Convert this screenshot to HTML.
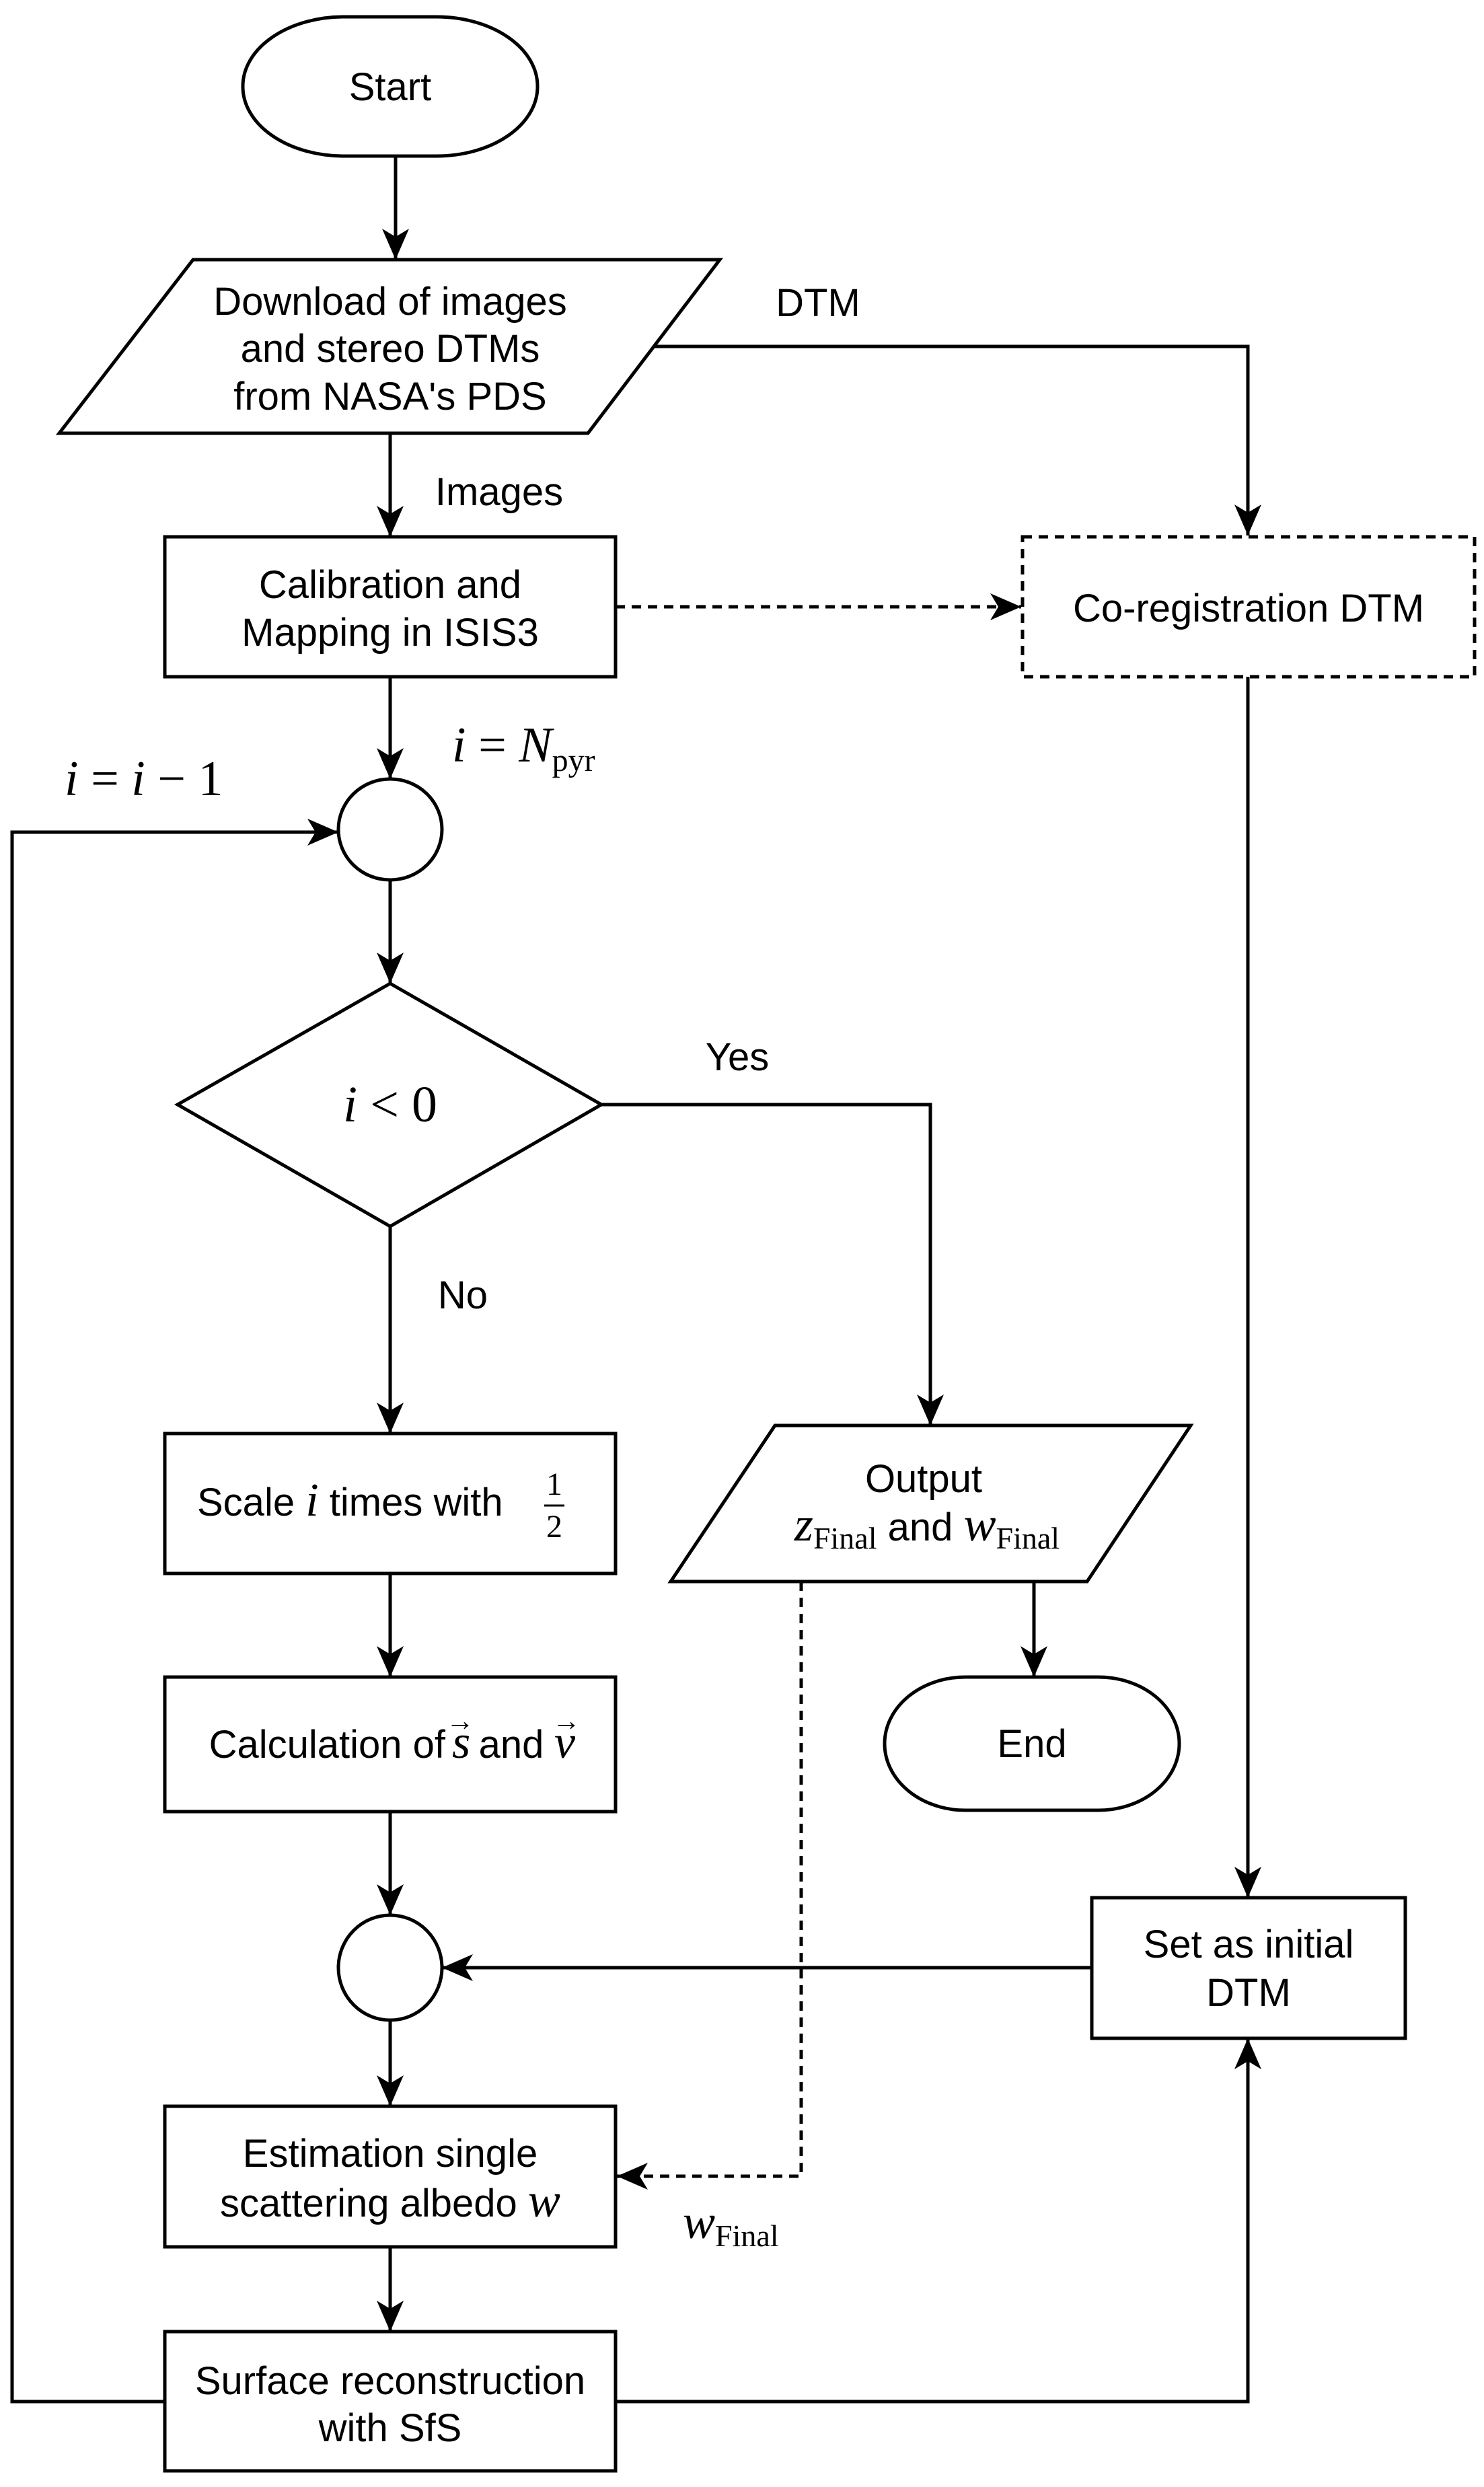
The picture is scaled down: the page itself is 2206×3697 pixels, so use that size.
<!DOCTYPE html>
<html><head><meta charset="utf-8"><style>
html,body{margin:0;padding:0;background:#fff}
svg{display:block}
.s{font-family:"Liberation Sans",Arial,sans-serif;font-size:58px;fill:#000}
.m{font-family:"Liberation Serif","Times New Roman",serif;font-style:italic;fill:#000}
.r{font-family:"Liberation Serif","Times New Roman",serif;font-style:normal;fill:#000}
</style></head><body>
<svg width="2206" height="3697" viewBox="0 0 2206 3697" xmlns="http://www.w3.org/2000/svg">
<defs>
<marker id="a" markerUnits="userSpaceOnUse" markerWidth="46" markerHeight="40" viewBox="0 0 46 40" refX="46" refY="20" orient="auto">
<path d="M0,0 L46,20 L0,40 L12,20 Z" fill="#000"/>
</marker>
</defs>
<g fill="none" stroke="#000" stroke-width="5">
<rect x="361" y="25" width="438" height="207" rx="150" ry="103" fill="#fff"/>
<line x1="588" y1="232" x2="588" y2="386" marker-end="url(#a)"/>
<polygon points="287,386 1070,386 874,644 88,644" fill="#fff"/>
<polyline points="971,515 1855,515 1855,796" marker-end="url(#a)"/>
<line x1="580" y1="644" x2="580" y2="798" marker-end="url(#a)"/>
<rect x="245" y="798" width="670" height="208" fill="#fff"/>
<rect x="1520" y="798" width="672" height="208" stroke-dasharray="14,10" fill="#fff"/>
<line x1="915" y1="902" x2="1518" y2="902" stroke-dasharray="14,10" marker-end="url(#a)"/>
<line x1="580" y1="1006" x2="580" y2="1158" marker-end="url(#a)"/>
<ellipse cx="580" cy="1233" rx="77" ry="75" fill="#fff"/>
<polyline points="245,3570 18,3570 18,1237 503,1237" marker-end="url(#a)"/>
<line x1="1855" y1="1006" x2="1855" y2="2821" marker-end="url(#a)"/>
<line x1="580" y1="1308" x2="580" y2="1462" marker-end="url(#a)"/>
<polygon points="580,1462 894,1642 580,1823 264,1642" fill="#fff"/>
<polyline points="894,1642 1383,1642 1383,2119" marker-end="url(#a)"/>
<line x1="580" y1="1823" x2="580" y2="2131" marker-end="url(#a)"/>
<rect x="245" y="2131" width="670" height="208" fill="#fff"/>
<polygon points="1152,2119 1770,2119 1616,2351 997,2351" fill="#fff"/>
<line x1="1537" y1="2351" x2="1537" y2="2493" marker-end="url(#a)"/>
<rect x="1315" y="2493" width="438" height="198" rx="120" ry="99" fill="#fff"/>
<polyline points="1191,2351 1191,3235 917,3235" stroke-dasharray="14,10" marker-end="url(#a)"/>
<line x1="580" y1="2339" x2="580" y2="2493" marker-end="url(#a)"/>
<rect x="245" y="2493" width="670" height="200" fill="#fff"/>
<line x1="580" y1="2693" x2="580" y2="2847" marker-end="url(#a)"/>
<ellipse cx="580" cy="2925" rx="77" ry="78" fill="#fff"/>
<rect x="1623" y="2821" width="466" height="209" fill="#fff"/>
<line x1="1623" y1="2925" x2="657" y2="2925" marker-end="url(#a)"/>
<line x1="580" y1="3004" x2="580" y2="3131" marker-end="url(#a)"/>
<rect x="245" y="3131" width="670" height="209" fill="#fff"/>
<line x1="580" y1="3340" x2="580" y2="3466" marker-end="url(#a)"/>
<rect x="245" y="3466" width="670" height="207" fill="#fff"/>
<polyline points="915,3570 1855,3570 1855,3030" marker-end="url(#a)"/>
</g>
<g class="s" text-anchor="middle">
<text x="580" y="149">Start</text>
<text x="580" y="468">Download of images</text>
<text x="580" y="538">and stereo DTMs</text>
<text x="580" y="609">from NASA's PDS</text>
<text x="1216" y="470">DTM</text>
<text x="742" y="751">Images</text>
<text x="580" y="889">Calibration and</text>
<text x="580" y="960">Mapping in ISIS3</text>
<text x="1856" y="924">Co-registration DTM</text>
<text x="1096" y="1591">Yes</text>
<text x="688" y="1945">No</text>
<text x="1373" y="2218">Output</text>
<text x="1534" y="2612">End</text>
<text x="1856" y="2910">Set as initial</text>
<text x="1856" y="2982">DTM</text>
<text x="580" y="3221">Estimation single</text>
<text x="580" y="3559">Surface reconstruction</text>
<text x="580" y="3629">with SfS</text>
</g>
<text x="672" y="1132" class="m" font-size="74">i<tspan class="r"> = </tspan>N<tspan class="r" font-size="48" dy="14">pyr</tspan></text>
<text x="96" y="1182" class="m" font-size="74">i<tspan class="r"> = </tspan>i<tspan class="r"> − 1</tspan></text>
<text x="580" y="1667" class="m" font-size="76" text-anchor="middle">i<tspan class="r"> &lt; 0</tspan></text>
<text x="293" y="2253" class="s">Scale <tspan class="m" font-size="70">i</tspan> times with</text>
<text x="824" y="2222" class="r" font-size="48" text-anchor="middle">1</text>
<line x1="809" y1="2238" x2="839" y2="2238" stroke="#000" stroke-width="3"/>
<text x="824" y="2285" class="r" font-size="48" text-anchor="middle">2</text>
<text x="662" y="2613" class="s" text-anchor="end">Calculation of</text>
<text x="672" y="2613" class="m" font-size="70">s</text>
<text x="760" y="2613" class="s" text-anchor="middle">and</text>
<text x="824" y="2613" class="m" font-size="70">v</text>
<text x="684" y="2572" class="r" font-size="42" text-anchor="middle">→</text>
<text x="842" y="2572" class="r" font-size="42" text-anchor="middle">→</text>
<text x="1378" y="2290" class="s" text-anchor="middle"><tspan class="m" font-size="72">z</tspan><tspan class="r" font-size="46" dy="12">Final</tspan><tspan dy="-12"> and </tspan><tspan class="m" font-size="72">w</tspan><tspan class="r" font-size="46" dy="12">Final</tspan></text>
<text x="580" y="3295" class="s" text-anchor="middle">scattering albedo <tspan class="m" font-size="72">w</tspan></text>
<text x="1015" y="3327" class="m" font-size="72">w<tspan class="r" font-size="46" dy="12">Final</tspan></text>
</svg>
</body></html>
